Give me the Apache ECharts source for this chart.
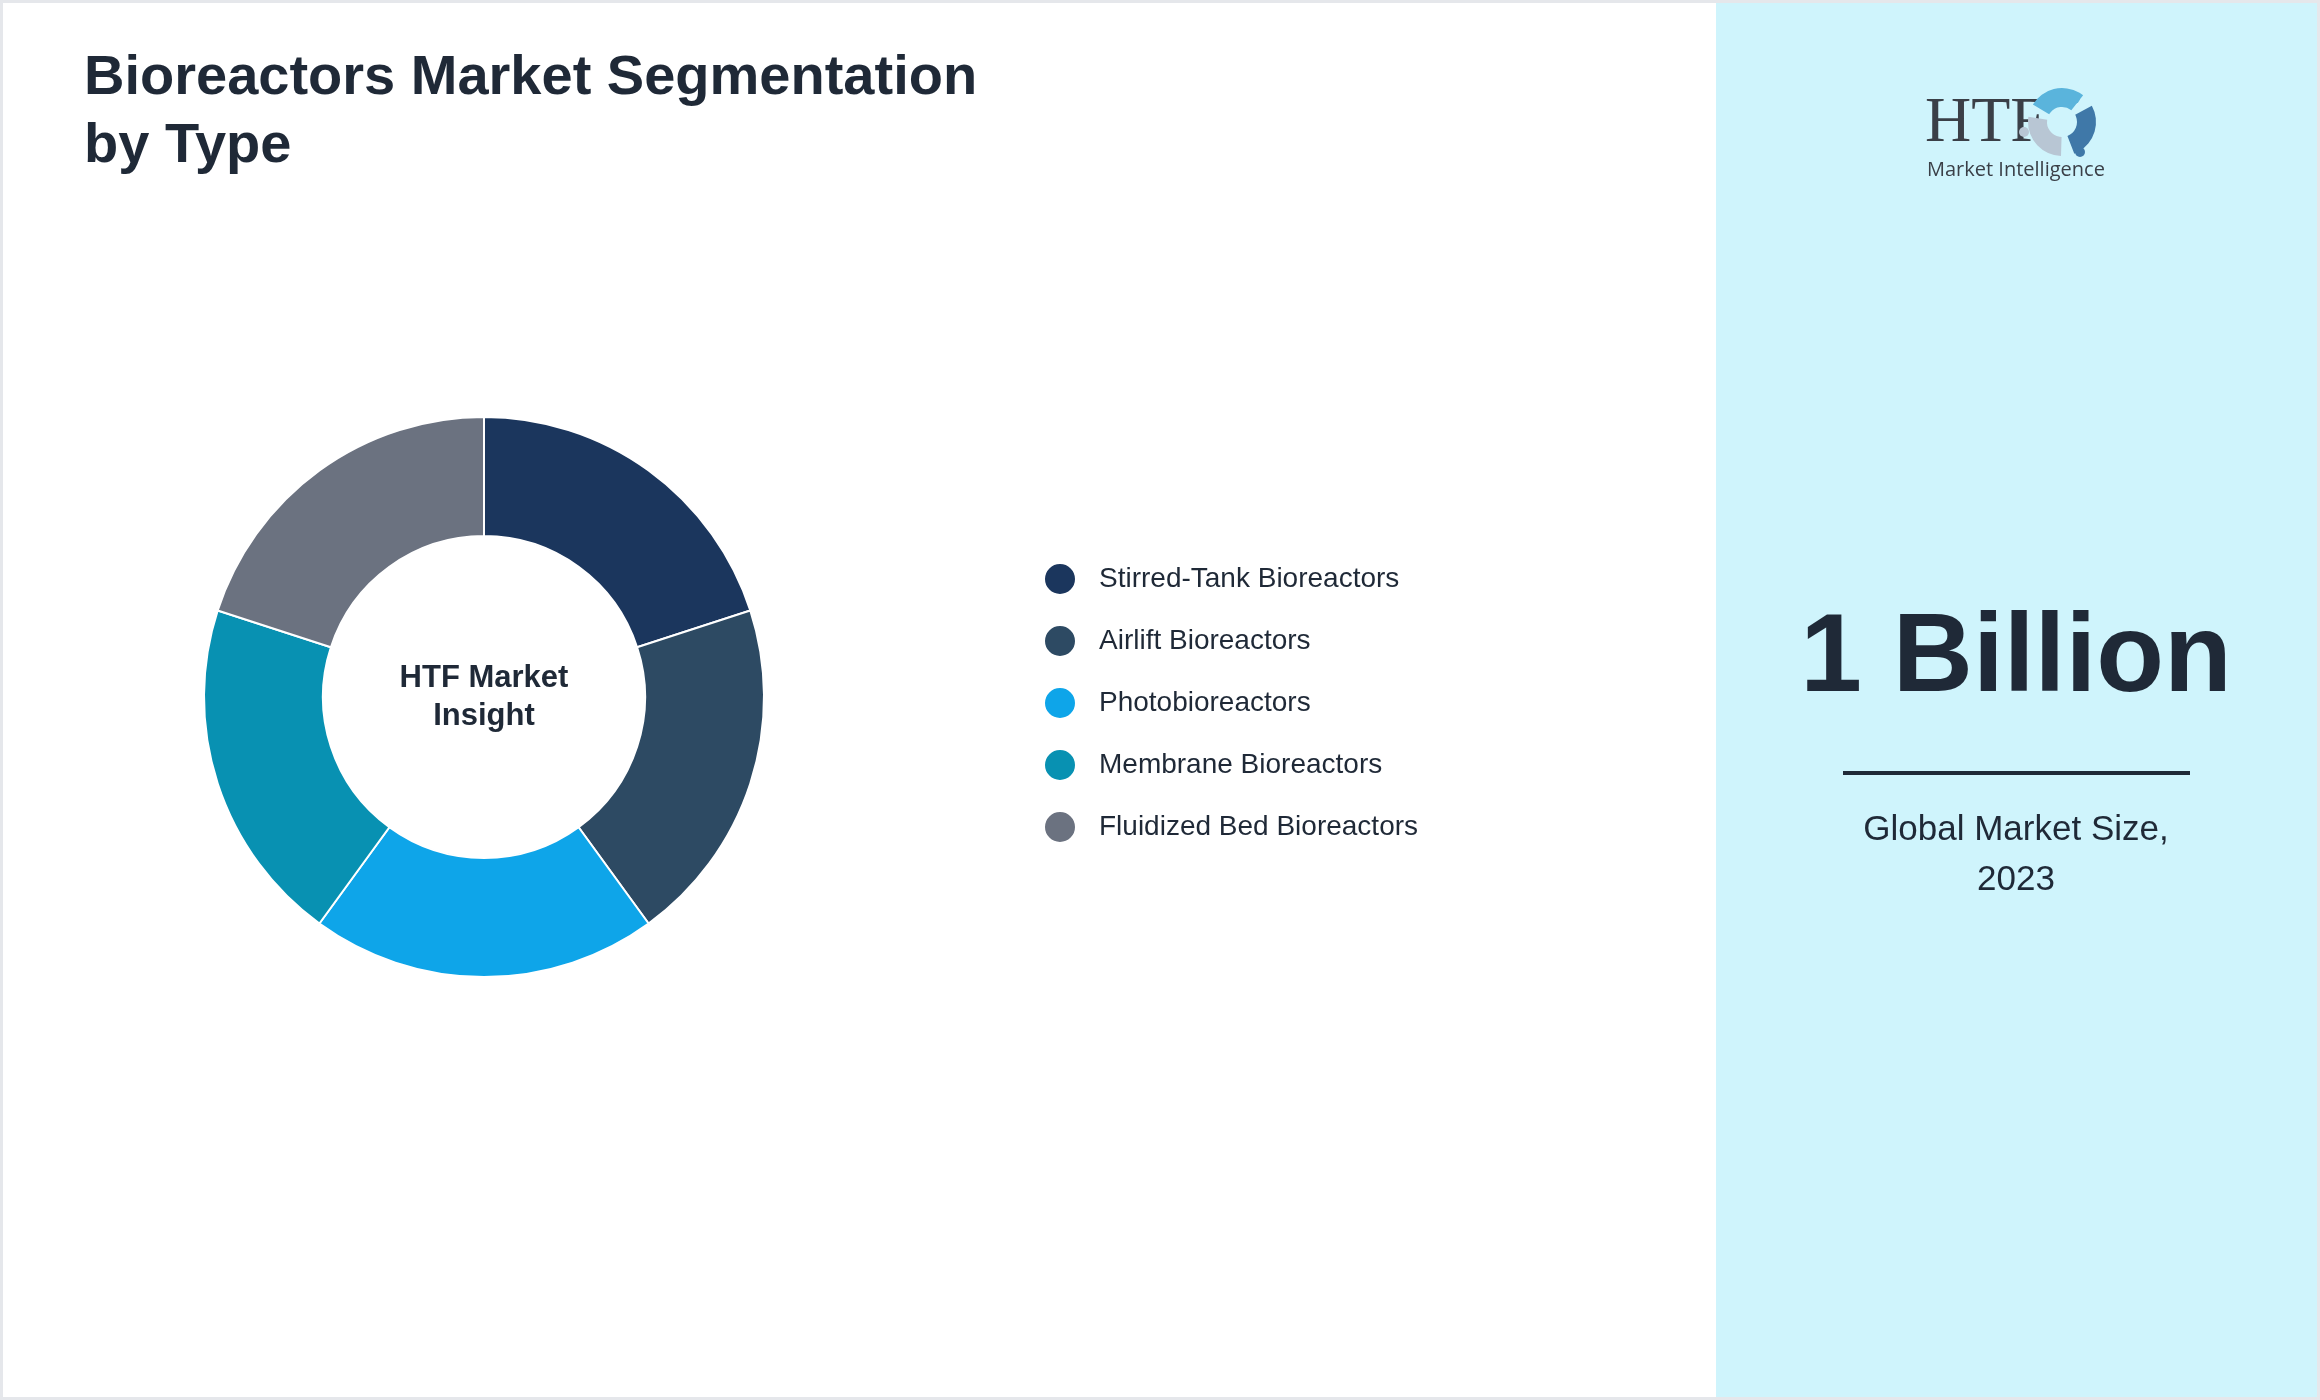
<!DOCTYPE html>
<html>
<head>
<meta charset="utf-8">
<script src="https://cdn.jsdelivr.net/npm/echarts@6/dist/echarts.min.js"></script>
<style>
  html, body { margin: 0; padding: 0; background: #fff; }
  #main { width: 2320px; height: 1400px; }
</style>
</head>
<body>
<div id="main"></div>
<script>
// data
var categories = ['Stirred-Tank Bioreactors', 'Airlift Bioreactors', 'Photobioreactors', 'Membrane Bioreactors', 'Fluidized Bed Bioreactors'];
var shares = [20, 20, 20, 20, 20];
var colors = ['#1b365d', '#2d4a63', '#0ea5e9', '#0891b2', '#6b7280'];
var marketSize = '1 Billion';
var marketLabel = 'Global Market Size,\n2023';

var chart = echarts.init(document.getElementById('main'));
var dark = '#1f2937';

chart.setOption({
  animation: false,
  color: colors,
  graphic: [
    // outer border
    {type: 'rect', shape: {x: 1.5, y: 1.5, width: 2317, height: 1397}, style: {fill: 'none', stroke: '#e5e7eb', lineWidth: 3}, z: 0},
    // right panel
    {type: 'rect', shape: {x: 1716, y: 3, width: 601, height: 1394}, style: {fill: '#cff4fc'}, z: 0},
    {type: 'text', left: 84, top: 45, style: {text: 'Bioreactors Market Segmentation\nby Type', font: 'bold 56px "Liberation Sans", Arial, sans-serif', fill: dark, lineHeight: 68}},
    {type: 'text', x: 2016, y: 660, style: {text: marketSize, font: 'bold 111px "Liberation Sans", Arial, sans-serif', fill: dark, align: 'center', verticalAlign: 'middle'}},
    {type: 'rect', shape: {x: 1843, y: 771, width: 347, height: 4}, style: {fill: dark}},
    {type: 'text', x: 2016, y: 855, style: {text: marketLabel, font: '35px "Liberation Sans", Arial, sans-serif', fill: dark, align: 'center', verticalAlign: 'middle', lineHeight: 50}},
    // logo
    {type: 'text', x: 1925, y: 156, style: {text: 'HTF', font: '64px "Liberation Serif", "DejaVu Serif", serif', fill: '#3a3f47', verticalAlign: 'bottom'}},
    {type: 'text', x: 1927, y: 170, style: {text: 'Market Intelligence', font: '20px "Open Sans", "DejaVu Sans", sans-serif', fill: '#3a3f47', verticalAlign: 'middle'}},
    {type: 'circle', shape: {cx: 2074, cy: 98, r: 6}, style: {fill: '#5ab4dc'}},
    {type: 'sector', shape: {cx: 2062, cy: 122, r: 34, r0: 15, startAngle: -2.6, endAngle: -0.9}, style: {fill: '#5ab4dc'}},
    {type: 'sector', shape: {cx: 2062, cy: 122, r: 34, r0: 15, startAngle: -0.5, endAngle: 1.2}, style: {fill: '#3f78a8'}},
    {type: 'sector', shape: {cx: 2062, cy: 122, r: 34, r0: 15, startAngle: 1.6, endAngle: 3.3}, style: {fill: '#b8c6d4'}},
    {type: 'circle', shape: {cx: 2080, cy: 152, r: 5}, style: {fill: '#3f78a8'}},
    {type: 'circle', shape: {cx: 2024, cy: 132, r: 5}, style: {fill: '#b8c6d4'}}
  ],
  legend: {
    orient: 'vertical',
    left: 1038,
    top: 557,
    icon: 'circle',
    itemWidth: 32,
    itemHeight: 32,
    itemGap: 28,
    textStyle: {fontSize: 28, color: dark, fontFamily: '"Liberation Sans", Arial, sans-serif', padding: [0, 0, 0, 18]},
    data: categories
  },
  series: [{
    type: 'pie',
    center: [484, 697],
    radius: [161, 280],
    startAngle: 90,
    clockwise: true,
    label: {
      show: true,
      position: 'center',
      formatter: function () { return 'HTF Market\nInsight'; },
      fontSize: 31, fontWeight: 'bold', color: dark, lineHeight: 38,
      fontFamily: '"Liberation Sans", Arial, sans-serif'
    },
    labelLine: {show: false},
    emphasis: {disabled: true},
    itemStyle: {borderColor: '#fff', borderWidth: 2},
    data: categories.map(function (c, i) { return {name: c, value: shares[i]}; })
  }]
});
</script>
</body>
</html>
